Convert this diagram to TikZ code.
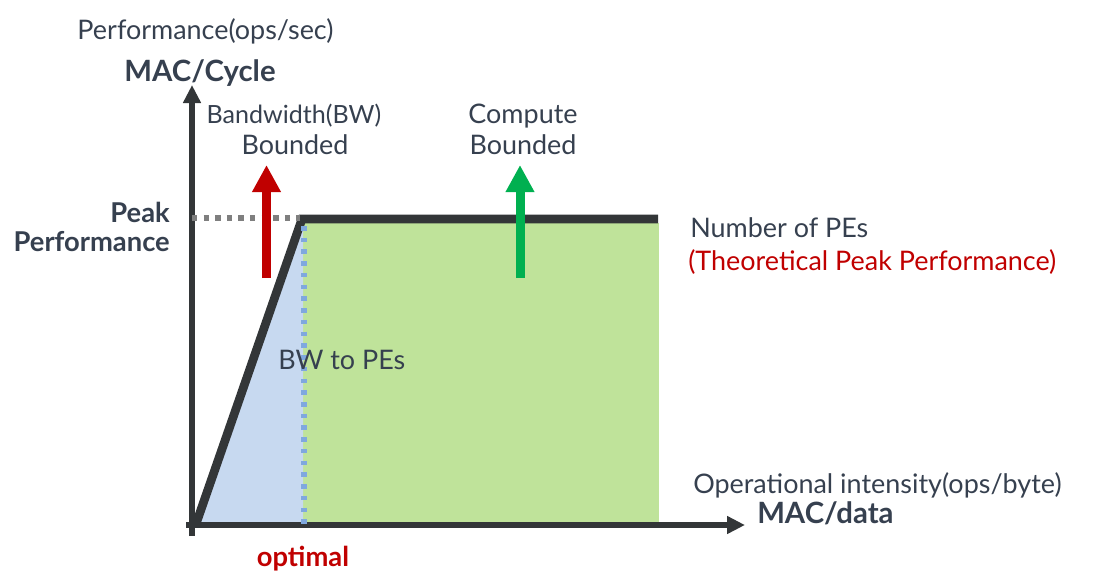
\documentclass[tikz,border=0pt]{standalone}
\usepackage{fontspec}
\setmainfont{Lato}
\usetikzlibrary{arrows.meta}
\definecolor{txt}{HTML}{36404F}
\definecolor{axc}{HTML}{333638}
\definecolor{grn}{HTML}{BFE39A}
\definecolor{blu}{HTML}{C7D9F0}
\definecolor{bdot}{HTML}{7FA8DE}
\definecolor{gdot}{HTML}{7F7F7F}
\definecolor{red1}{HTML}{C00000}
\definecolor{grn1}{HTML}{00B050}
\tikzset{
  lbl/.style={font=\fontsize{20.2pt}{24pt}\selectfont, text=txt, inner sep=0pt},
  slbl/.style={font=\fontsize{18.8pt}{24pt}\selectfont, text=txt, inner sep=0pt},
  blbl/.style={font=\fontsize{20.5pt}{24pt}\selectfont\bfseries, text=txt, inner sep=0pt},
  bbig/.style={font=\fontsize{22pt}{24pt}\selectfont\bfseries, text=txt, inner sep=0pt},
  axisline/.style={draw=axc, line width=4.5pt, -{Triangle[width=12.75pt,length=13.5pt]}},
  bigarrow/.style={line width=6.75pt, -{Triangle[width=20.25pt,length=20.25pt]}},
}
\begin{document}
\begin{tikzpicture}[x=0.75pt,y=-0.75pt]
\useasboundingbox (0,0) rectangle (1097,587);
% regions
\fill[grn] (303,223) rectangle (659,523);
\fill[blu] (196,523) -- (302,219) -- (303,219) -- (303,523) -- cycle;
% axes
\coordinate (yb) at (192,536);
\coordinate (yt) at (192,85);
\coordinate (xl) at (186,525);
\coordinate (xr) at (745,525);
\draw[axisline] (yb) -- (yt);
\draw[axisline] (xl) -- (xr);
% roofline
\coordinate (o) at (196,524);
\coordinate (k) at (302,219);
\coordinate (e) at (658,219);
\draw[axc, line width=6.5pt, line join=miter] (o) -- (k) -- (e);
% dotted lines
\coordinate (g0) at (192,218);
\coordinate (g1) at (300,218);
\draw[gdot, line width=4.5pt, dash pattern=on 4pt off 4.7pt] (g0) -- (g1);
\coordinate (b0) at (304,226);
\coordinate (b1) at (304,528);
\draw[bdot, line width=3.8pt, dash pattern=on 3.4pt off 5.4pt] (b0) -- (b1);
% arrows
\coordinate (r0) at (266.5,278);
\coordinate (r1) at (266.5,165);
\draw[bigarrow, red1] (r0) -- (r1);
\coordinate (c0) at (520,278);
\coordinate (c1) at (520,165);
\draw[bigarrow, grn1] (c0) -- (c1);
% labels
\node[lbl, anchor=base] (perf) at (205.5,39) {Performance(ops/sec)};
\node[bbig, anchor=base] (mac) at (200,81) {MAC/Cycle};
\node[slbl, anchor=base] (bw1) at (294,123) {Bandwidth(BW)};
\node[lbl, anchor=base] (bw2) at (295,154) {Bounded};
\node[lbl, anchor=base] (cb1) at (523,123) {Compute};
\node[lbl, anchor=base] (cb2) at (523,154) {Bounded};
\node[blbl, anchor=base east] (pk1) at (170,222) {Peak};
\node[blbl, anchor=base east] (pk2) at (170,251) {Performance};
\node[lbl, anchor=base west] (npe) at (690,237) {Number of PEs};
\node[lbl, anchor=base west, text=red1] (tpp) at (688,270) {(Theoretical Peak Performance)};
\node[lbl, anchor=base west] (bwpe) at (278,369) {BW to PEs};
\node[lbl, anchor=base west] (oi) at (693,493) {Operational intensity(ops/byte)};
\node[bbig, anchor=base west] (macd) at (757,523) {MAC/data};
\node[blbl, anchor=base, text=red1] (opt) at (303,566) {optimal};
\end{tikzpicture}
\end{document}
